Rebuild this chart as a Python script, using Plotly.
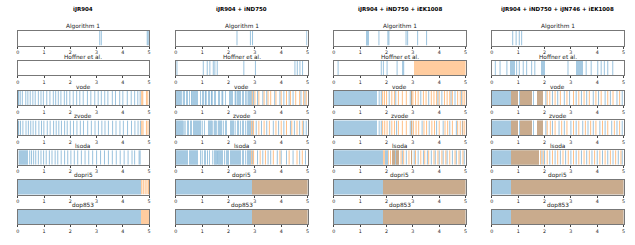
import plotly.graph_objects as go

MODELS = ["iJR904", "iJR904 + iND750", "iJR904 + iND750 + iEK1008",
          "iJR904 + iND750 + iJN746 + iEK1008"]
SOLVERS = ["Algorithm 1", "Hoffner et al.", "vode", "zvode", "lsoda", "dopri5", "dop853"]
TICKS = [0, 1, 2, 3, 4, 5]

# ---- iJR904 ----
M1_BLUE_SPANS = [[], [], [], [], [[0.03, 0.4]], [[0, 4.7]], [[0, 4.7]]]
M1_ORANGE_SPANS = [[], [], [], [], [], [], [[4.7, 5.0]]]
M1_BLUE_LINES = [
    [3.12, 3.18, 4.93, 4.97],
    [],
    [0.0, 0.03, 0.09, 0.17, 0.3, 0.38, 0.47, 0.57, 0.66, 0.78, 0.88, 0.97, 1.1, 1.22, 1.35, 1.44,
     1.54, 1.64, 1.77, 1.86, 1.98, 2.11, 2.24, 2.36, 2.49, 2.65, 2.78, 2.93, 3.06, 3.18, 3.31,
     3.43, 3.6, 3.72, 3.88, 4.0, 4.17, 4.32, 4.45, 4.57, 4.66],
    [0.0, 0.03, 0.1, 0.19, 0.31, 0.4, 0.49, 0.58, 0.68, 0.8, 0.9, 0.99, 1.12, 1.23, 1.36, 1.46,
     1.56, 1.66, 1.78, 1.88, 2.0, 2.12, 2.25, 2.38, 2.5, 2.66, 2.8, 2.94, 3.07, 3.2, 3.32,
     3.45, 3.61, 3.74, 3.89, 4.02, 4.18, 4.33, 4.46, 4.58, 4.67],
    [0.0, 0.45, 0.52, 0.6, 0.68, 0.78, 0.88, 0.98, 1.08, 1.2, 1.3, 1.42, 1.52, 1.65, 1.78, 1.9,
     2.02, 2.15, 2.28, 2.42, 2.56, 2.7, 2.85, 3.0, 3.15, 3.3, 3.45, 3.6, 3.75, 3.9, 4.05, 4.2,
     4.35, 4.45, 4.62, 4.66],
    [], [],
]
M1_ORANGE_LINES = [[], [], [4.72, 4.76, 4.9, 4.95], [4.72, 4.77, 4.9, 4.96], [],
                   [4.72, 4.78, 4.85, 4.92, 4.98], []]

# ---- iJR904 + iND750 ----
M2_BLUE_SPANS = [
    [], [],
    [[0, 0.2], [0.25, 0.33], [0.38, 0.45], [0.5, 0.55], [0.65, 0.85], [0.9, 0.95], [1.0, 1.08],
     [1.2, 1.3], [1.45, 1.52], [1.6, 1.68], [1.85, 1.9], [2.0, 2.15], [2.32, 2.45], [2.5, 2.6],
     [2.75, 2.85]],
    [[0, 0.25], [0.4, 0.5], [0.55, 0.6], [0.65, 0.95], [1.05, 1.1], [1.2, 1.35], [1.45, 1.5],
     [1.6, 1.75], [1.85, 1.95], [2.05, 2.2], [2.3, 2.4], [2.5, 2.6], [2.7, 2.85]],
    [[0, 0.45], [0.5, 0.85], [0.9, 0.95], [1.05, 1.15], [1.25, 1.3], [1.45, 1.55], [1.6, 1.8],
     [1.9, 2.0], [2.05, 2.45], [2.5, 2.6], [2.7, 2.85]],
    [[0, 5.0]], [[0, 5.0]],
]
M2_ORANGE_SPANS = [[], [], [], [], [], [[2.87, 5.0]], [[2.87, 5.0]]]
M2_BLUE_LINES = [
    [2.32, 2.83, 2.91, 4.97],
    [0.04, 1.04, 1.19, 1.29, 1.42, 1.48, 1.57, 2.58, 3.02, 4.52, 4.61, 4.71, 4.81],
    [0.22, 0.6, 0.62, 1.12, 1.15, 1.35, 1.38, 1.75, 1.78, 2.25, 2.28, 2.65, 2.7, 2.88, 2.95,
     3.1, 3.3, 3.45, 3.75, 3.95, 4.1, 4.3, 4.45, 4.75, 4.9],
    [0.3, 0.35, 1.0, 1.4, 1.55, 1.8, 2.25, 2.45, 2.65, 2.9, 3.05, 3.25, 3.45, 3.7, 3.9, 4.1,
     4.35, 4.5, 4.7, 4.85, 4.95],
    [1.0, 1.2, 1.4, 1.58, 1.85, 2.65, 2.9, 3.1, 3.3, 3.5, 3.6, 3.85, 4.0, 4.2, 4.45, 4.7, 4.92],
    [], [],
]
M2_ORANGE_LINES = [
    [], [],
    [2.9, 3.0, 3.15, 3.35, 3.5, 3.6, 3.8, 4.0, 4.2, 4.35, 4.55, 4.7, 4.85, 4.95],
    [2.88, 2.95, 3.15, 3.35, 3.55, 3.8, 4.0, 4.2, 4.4, 4.6, 4.8],
    [2.88, 2.95, 3.2, 3.4, 3.7, 3.95, 4.3, 4.6, 4.8],
    [], [],
]

# ---- iJR904 + iND750 + iEK1008 ----
M3_BLUE_SPANS = [
    [[1.2, 1.33]], [],
    [[0, 1.65]], [[0, 1.65]],
    [[0, 1.85], [1.95, 2.05], [2.2, 2.45]],
    [[0, 5.0]], [[0, 5.0]],
]
M3_ORANGE_SPANS = [
    [], [[3.03, 5.0]], [], [],
    [[1.85, 1.95], [2.05, 2.1], [2.2, 2.3], [2.35, 2.45]],
    [[1.85, 5.0]], [[1.85, 5.0]],
]
M3_BLUE_LINES = [
    [1.71, 2.05, 2.09, 2.74, 2.8, 3.18, 3.52],
    [0.16, 1.8, 1.88, 2.02, 2.4, 2.61, 2.65],
    [1.72, 1.8, 2.1, 2.35, 2.9, 2.95, 3.3, 3.6, 3.95, 4.1, 4.45, 4.6, 4.85],
    [1.72, 1.8, 2.12, 2.38, 2.9, 2.96, 3.35, 3.62, 3.9, 4.15, 4.4, 4.65, 4.88],
    [2.6, 2.75, 2.95, 3.05, 3.2, 3.4, 3.55, 3.7, 3.85, 4.0, 4.15, 4.3, 4.5, 4.65, 4.8, 4.95],
    [], [],
]
M3_ORANGE_LINES = [
    [], [],
    [1.85, 1.92, 2.0, 2.2, 2.3, 2.45, 2.6, 2.75, 2.95, 3.0, 3.1, 3.2, 3.4, 3.5, 3.7, 3.8, 3.9,
     4.0, 4.2, 4.3, 4.4, 4.5, 4.7, 4.8, 4.9, 4.97],
    [1.85, 1.93, 2.02, 2.2, 2.3, 2.45, 2.6, 2.75, 2.95, 3.02, 3.12, 3.22, 3.42, 3.52, 3.72,
     3.82, 4.0, 4.22, 4.32, 4.5, 4.7, 4.8, 4.9, 4.97],
    [2.15, 2.55, 2.65, 2.85, 2.95, 3.1, 3.3, 3.45, 3.6, 3.8, 3.95, 4.1, 4.25, 4.4, 4.6, 4.75,
     4.9],
    [], [],
]

# ---- iJR904 + iND750 + iJN746 + iEK1008 ----
M4_BLUE_SPANS = [
    [],
    [[0.67, 0.88], [1.85, 2.01], [3.18, 3.45]],
    [[0, 0.98], [1.02, 1.5], [1.55, 1.6], [1.7, 1.95]],
    [[0, 0.98], [1.02, 1.5], [1.55, 1.6], [1.7, 1.95]],
    [[0, 1.8]],
    [[0, 5.0]], [[0, 5.0]],
]
M4_ORANGE_SPANS = [
    [], [],
    [[0.72, 0.98], [1.07, 1.5], [1.72, 1.95]],
    [[0.72, 0.98], [1.07, 1.5], [1.72, 1.95]],
    [[0.72, 1.8]],
    [[0.72, 5.0]], [[0.72, 5.0]],
]
M4_BLUE_LINES = [
    [0.79, 0.92, 1.04, 1.13],
    [0.13, 0.31, 0.57, 0.94, 1.04, 1.19, 1.32, 1.51, 1.63, 2.89, 3.58, 3.77, 4.02, 4.15, 4.27,
     4.4, 4.59],
    [2.05, 2.3, 2.5, 2.75, 2.95, 3.2, 3.4, 3.6, 3.85, 4.05, 4.3, 4.5, 4.75, 4.95],
    [2.05, 2.3, 2.55, 2.75, 3.0, 3.2, 3.45, 3.65, 3.85, 4.1, 4.3, 4.55, 4.75, 4.95],
    [1.9, 2.0, 2.2, 2.4, 2.6, 2.8, 3.0, 3.2, 3.4, 3.6, 3.8, 4.0, 4.2, 4.4, 4.6, 4.8, 4.95],
    [], [],
]
M4_ORANGE_LINES = [
    [], [],
    [2.1, 2.2, 2.4, 2.6, 2.85, 3.1, 3.3, 3.5, 3.7, 3.95, 4.15, 4.4, 4.6, 4.85],
    [2.1, 2.22, 2.4, 2.65, 2.85, 3.1, 3.3, 3.55, 3.75, 3.95, 4.2, 4.4, 4.65, 4.85],
    [1.85, 1.95, 2.1, 2.3, 2.5, 2.7, 2.9, 3.1, 3.3, 3.5, 3.7, 3.9, 4.1, 4.3, 4.5, 4.7, 4.9],
    [], [],
]

BLUE_SPANS = [M1_BLUE_SPANS, M2_BLUE_SPANS, M3_BLUE_SPANS, M4_BLUE_SPANS]
ORANGE_SPANS = [M1_ORANGE_SPANS, M2_ORANGE_SPANS, M3_ORANGE_SPANS, M4_ORANGE_SPANS]
BLUE_LINES = [M1_BLUE_LINES, M2_BLUE_LINES, M3_BLUE_LINES, M4_BLUE_LINES]
ORANGE_LINES = [M1_ORANGE_LINES, M2_ORANGE_LINES, M3_ORANGE_LINES, M4_ORANGE_LINES]

# ---- layout geometry (pixels) ----
W, H = 635, 245
COL_X = [(16, 148), (175, 307.5), (334, 466.5), (493, 625.5)]
ROW_TOP0, ROW_STEP, ROW_H = 31, 29.8, 14.5

BLUE = "rgba(31,119,180,0.4)"
BLUE_LINE = "rgba(31,119,180,0.45)"
ORANGE = "rgba(255,127,14,0.4)"
ORANGE_LINE = "rgba(255,127,14,0.5)"
FONT = "DejaVu Sans"

fig = go.Figure()
annotations = []
layout_axes = {}
n = 0
for c, model in enumerate(MODELS):
    x0, x1 = COL_X[c]
    annotations.append(dict(
        text="<b>" + model + "</b>", x=(x0 + x1) / 2 / W, y=1 - 9 / H, xref="paper",
        yref="paper", showarrow=False, xanchor="center", yanchor="middle",
        font=dict(size=5.5, family=FONT, color="black")))
    for r, solver in enumerate(SOLVERS):
        n += 1
        top = ROW_TOP0 + r * ROW_STEP
        bot = top + ROW_H
        xa = "xaxis" if n == 1 else f"xaxis{n}"
        ya = "yaxis" if n == 1 else f"yaxis{n}"
        xr = "x" if n == 1 else f"x{n}"
        yr = "y" if n == 1 else f"y{n}"
        layout_axes[xa] = dict(
            domain=[x0 / W, x1 / W], anchor=yr, range=[0, 5], tickvals=TICKS,
            ticks="outside", ticklen=2, tickwidth=0.6, tickcolor="#444",
            tickfont=dict(size=4.8, family=FONT, color="#222"), showgrid=False,
            zeroline=False, showline=True, mirror=True, linecolor="#777", linewidth=1,
            fixedrange=True)
        layout_axes[ya] = dict(
            domain=[1 - bot / H, 1 - top / H], anchor=xr, range=[0, 1], showticklabels=False,
            ticks="", showgrid=False, zeroline=False, showline=True, mirror=True,
            linecolor="#777", linewidth=1, fixedrange=True)
        annotations.append(dict(
            text=solver, x=(x0 + x1) / 2 / W, y=1 - top / H, xref="paper", yref="paper",
            showarrow=False, xanchor="center", yanchor="bottom", yshift=-1,
            font=dict(size=5.8, family=FONT, color="#222")))

        # invisible anchor trace so every subplot frame is drawn
        fig.add_trace(go.Scatter(x=[None], y=[None], mode="lines", xaxis=xr, yaxis=yr,
                                 showlegend=False, hoverinfo="skip"))

        def add_spans(spans, color):
            if not spans:
                return
            fig.add_trace(go.Bar(
                orientation="h", y=[0.5] * len(spans), base=[s[0] for s in spans],
                x=[s[1] - s[0] for s in spans], width=1,
                marker=dict(color=color, line=dict(width=0)),
                xaxis=xr, yaxis=yr, showlegend=False, hoverinfo="skip"))

        def add_lines(times, color):
            if not times:
                return
            xs, ys = [], []
            for t in times:
                xs += [t, t, None]
                ys += [0, 1, None]
            fig.add_trace(go.Scatter(
                x=xs, y=ys, mode="lines", line=dict(color=color, width=1),
                xaxis=xr, yaxis=yr, showlegend=False, hoverinfo="skip"))

        add_spans(BLUE_SPANS[c][r], BLUE)
        add_lines(BLUE_LINES[c][r], BLUE_LINE)
        add_spans(ORANGE_SPANS[c][r], ORANGE)
        add_lines(ORANGE_LINES[c][r], ORANGE_LINE)

fig.update_layout(
    width=W, height=H, margin=dict(l=0, r=0, t=0, b=0), paper_bgcolor="white",
    plot_bgcolor="white", barmode="overlay", bargap=0, annotations=annotations,
    showlegend=False, **layout_axes)

fig.write_html("out.html", config={"displayModeBar": False},
               post_script="document.body.style.margin='0';document.body.style.padding='0';")
